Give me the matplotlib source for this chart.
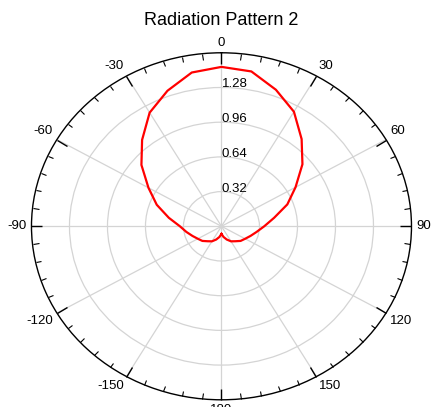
import numpy as np
import matplotlib.pyplot as plt
from matplotlib.ticker import FixedLocator

plt.rcParams['font.family'] = ['Liberation Sans', 'DejaVu Sans']

# pattern, every 10 degrees
angles = [-180, -170, -160, -150, -140, -130, -120, -110, -100, -90, -80, -70,
          -60, -50, -40, -30, -20, -10, 0, 10, 20, 30, 40, 50, 60, 70, 80,
          90, 100, 110, 120, 130, 140, 150, 160, 170, 180]
gain = [0.07, 0.10, 0.13, 0.16, 0.18, 0.21, 0.23, 0.26, 0.30, 0.35, 0.45, 0.58,
        0.71, 0.88, 1.04, 1.21, 1.33, 1.44, 1.47, 1.45, 1.34, 1.22, 1.05, 0.89,
        0.72, 0.59, 0.45, 0.36, 0.30, 0.26, 0.23, 0.21, 0.18, 0.16, 0.13, 0.10, 0.07]

ring_vals = [0.32, 0.64, 0.96, 1.28]
r_max = 1.6
major_deg = list(range(0, 360, 30))
major_labels = ['0', '30', '60', '90', '120', '150', '180',
                '-150', '-120', '-90', '-60', '-30']

fig = plt.figure(figsize=(4.33, 4.07), dpi=100)
ax = fig.add_axes([0.0727, 0.0177, 0.8776, 0.8526], projection='polar')
ax.set_aspect('auto')
ax.set_theta_zero_location('N')
ax.set_theta_direction(-1)

ax.plot(np.deg2rad(angles), gain, color='red', lw=1.6)

ax.set_ylim(0, r_max)
ax.set_yticks(ring_vals)
ax.set_yticklabels([])
for v in ring_vals:
    ax.text(0, v, f'{v:.2f}', ha='left', va='baseline', fontsize=9.5)

ax.set_xticks(np.deg2rad(major_deg))
ax.set_xticklabels([])
ax.xaxis.set_minor_locator(FixedLocator(np.deg2rad(np.arange(0, 360, 6))))
ax.tick_params(axis='x', which='major', direction='in', length=8, width=1,
               color='black', tick1On=False, tick2On=True)
ax.tick_params(axis='x', which='minor', direction='in', length=4, width=0.8,
               color='black', tick1On=False, tick2On=True)

# angle labels just outside the rim, aligned away from the centre
for deg, lbl in zip(major_deg, major_labels):
    s, c = np.sin(np.deg2rad(deg)), np.cos(np.deg2rad(deg))
    ha = 'left' if s > 0.01 else ('right' if s < -0.01 else 'center')
    va = 'bottom' if c > 0.01 else ('top' if c < -0.01 else 'center')
    ax.annotate(lbl, xy=(np.deg2rad(deg), r_max), xytext=(3.5 * s, 3 * c),
                textcoords='offset points', ha=ha, va=va, fontsize=9.5,
                annotation_clip=False)

ax.grid(True, color='#d4d4d4', lw=0.9)
ax.spines['polar'].set_color('black')
ax.spines['polar'].set_linewidth(1.0)

fig.text(0.511, 0.95, 'Radiation Pattern 2', ha='center', va='center', fontsize=13)

fig.savefig('out.png', dpi=100)
